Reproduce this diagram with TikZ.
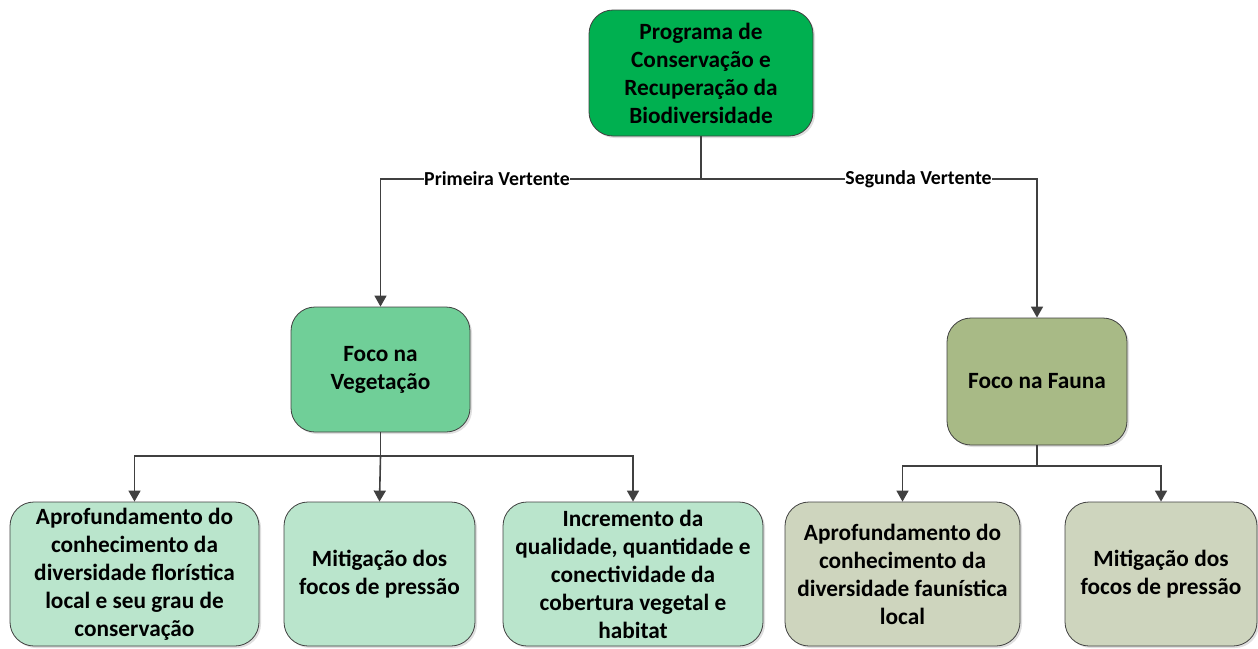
\documentclass[tikz,border=0pt]{standalone}
\usepackage{fontspec}
\setmainfont{Carlito}
\usetikzlibrary{arrows.meta,shadows}
\definecolor{progGreen}{RGB}{0,176,80}
\definecolor{vegGreen}{RGB}{112,207,152}
\definecolor{vegLight}{RGB}{186,229,204}
\definecolor{faunaOlive}{RGB}{168,186,134}
\definecolor{faunaLight}{RGB}{206,213,190}
\definecolor{lineGray}{RGB}{64,64,64}
\begin{document}
\begin{tikzpicture}[x=1pt,y=1pt,
  box/.style={draw=lineGray,line width=0.8pt,rounded corners=24pt,align=center,
    inner sep=2pt,font=\fontsize{23.3}{28}\selectfont\bfseries,
    drop shadow={shadow xshift=2pt,shadow yshift=-2pt,opacity=0.25}},
  lbl/.style={fill=white,inner sep=0.5pt,font=\fontsize{19.8}{22}\selectfont\bfseries},
  conn/.style={draw=lineGray,line width=1.6pt},
  arr/.style={conn,-{Triangle[length=11pt,width=12pt]}}]
\useasboundingbox (0,0) rectangle (1258,-648);
\node [box,fill=progGreen,minimum width=224,minimum height=126] (prog) at (701,-73)
  {Programa de\\Conservação e\\Recuperação da\\Biodiversidade};
\node [box,fill=vegGreen,minimum width=179,minimum height=125] (veg) at (380.5,-369.5)
  {Foco na\\Vegetação};
\node [box,fill=faunaOlive,minimum width=180,minimum height=127] (fauna) at (1037,-381.5)
  {Foco na Fauna};
\node [box,fill=vegLight,minimum width=249,minimum height=144] (flora) at (134.5,-574)
  {Aprofundamento do\\conhecimento da\\diversidade florística\\local e seu grau de\\conservação};
\node [box,fill=vegLight,minimum width=191,minimum height=144] (mitveg) at (379.5,-574)
  {Mitigação dos\\focos de pressão};
\node [box,fill=vegLight,minimum width=260,minimum height=144] (incr) at (633,-574)
  {Incremento da\\qualidade, quantidade e\\conectividade da\\cobertura vegetal e\\habitat};
\node [box,fill=faunaLight,minimum width=235,minimum height=144] (faunist) at (902.5,-574)
  {Aprofundamento do\\conhecimento da\\diversidade faunística\\local};
\node [box,fill=faunaLight,minimum width=192,minimum height=144] (mitfauna) at (1161,-574)
  {Mitigação dos\\focos de pressão};
\node [lbl] (v1) at (497,-179) {Primeira Vertente};
\node [lbl] (v2) at (918.5,-179) {Segunda Vertente};
\coordinate (vs) at (380.5,-456);
\coordinate (fs) at (1037,-466);
\draw [conn] (prog.south) |- (v1.east);
\draw [conn] (prog.south) |- (v2.west);
\draw [arr] (v1.west) -| (veg.north);
\draw [arr] (v2.east) -| (fauna.north);
\draw [conn] (veg.south) -- (vs);
\draw [arr] (vs) -| (flora.north);
\draw [arr] (vs) -- (mitveg.north);
\draw [arr] (vs) -| (incr.north);
\draw [conn] (fauna.south) -- (fs);
\draw [arr] (fs) -| (faunist.north);
\draw [arr] (fs) -| (mitfauna.north);
\end{tikzpicture}
\end{document}
